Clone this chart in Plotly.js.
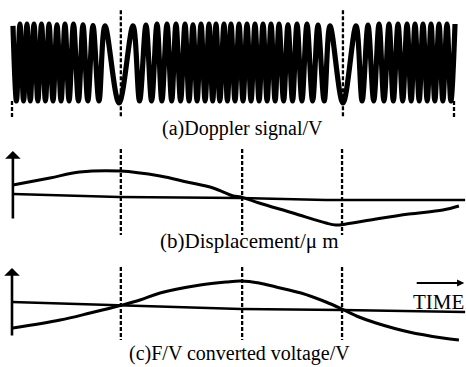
<!DOCTYPE html>
<html>
<head>
<meta charset="utf-8">
<script src="https://cdn.plot.ly/plotly-3.0.1.min.js"></script>
<style>html,body{margin:0;padding:0;background:#fff;}#chart{width:466px;height:367px;}</style>
</head>
<body>
<div id="chart"></div>
<script>
// ---- Data (time in arbitrary units, 0..100 across the record) ----
// (a) Doppler signal: times of fringe crests and troughs, with amplitudes (V)
const dopplerPeakT = [0.22, 1.79, 3.36, 4.93, 6.61, 8.30, 10.09, 11.88, 13.79, 15.92, 18.16, 20.85,
  27.13, 30.04, 32.51, 34.75, 36.77, 38.79, 40.58, 42.38, 44.17, 45.74, 47.53, 49.10, 50.90, 52.69,
  54.48, 56.28, 58.07, 59.87, 61.88, 63.90, 66.14, 68.61, 71.30,
  77.13, 79.82, 82.29, 84.53, 86.55, 88.57, 90.36, 92.15, 93.95, 95.74, 97.53, 99.33];
const dopplerPeakV = [0.95, 1, 1, 1, 1, 1, 0.98, 1, 1, 0.98, 0.96, 0.95,
  0.95, 0.97, 1, 1, 1, 1, 0.98, 1, 1, 1, 1, 1, 1, 1,
  1, 1, 1, 1, 0.98, 1, 1, 0.97, 0.95,
  0.95, 0.97, 1, 1, 1, 1, 1, 1, 1, 1, 1, 1];
const dopplerTroughT = [1.0, 2.6, 4.1, 5.8, 7.5, 9.2, 11.0, 12.8, 14.9, 17.0, 19.5, 24.0,
  28.6, 31.3, 33.6, 35.8, 37.8, 39.7, 41.5, 43.3, 45.0, 46.6, 48.3, 50.0, 51.8, 53.6,
  55.4, 57.2, 59.0, 60.9, 62.9, 65.0, 67.4, 70.0, 74.2,
  78.5, 81.1, 83.4, 85.5, 87.6, 89.5, 91.3, 93.1, 94.8, 96.6, 98.4];
const dopplerTroughV = [-1, -1, -1, -1, -1, -1, -1, -1, -1, -1, -1, -1.05,
  -1, -1, -1, -1, -1, -1, -1, -1, -1, -1, -1, -1, -1, -1,
  -1, -1, -1, -1, -1, -1, -1, -1, -1.05,
  -1, -1, -1, -1, -1, -1, -1, -1, -1, -1, -1];

// (b) Displacement (um)
const dispT = [0.2, 8.5, 15.2, 24.2, 33.2, 39.2, 45.1, 49.6, 51.3, 55.4, 63.0, 70.4, 72.6, 74.9, 81.6, 89.0, 96.6, 100.2];
const dispV = [0.48, 0.76, 1.0, 1.04, 0.84, 0.6, 0.36, 0.04, 0, -0.24, -0.64, -1.04, -1.12, -1.08, -0.88, -0.68, -0.52, -0.36];
const dispBaseT = [0.2, 24.0, 51.3, 70.4, 101.6];
const dispBaseV = [0.12, 0, -0.04, -0.12, -0.12];

// (c) F/V converted voltage (V)
const fvT = [0.2, 10.8, 17.5, 24.7, 28.7, 33.2, 42.2, 48.0, 51.3, 55.4, 59.2, 64.8, 70.4, 74.0, 77.8, 81.6, 89.0, 96.6, 100.2];
const fvV = [-0.88, -0.56, -0.28, 0.04, 0.24, 0.52, 0.84, 0.96, 1.0, 0.92, 0.76, 0.52, 0.16, -0.12, -0.44, -0.68, -1.04, -1.28, -1.36];
const fvBaseT = [0, 24.4, 51.3, 74.0, 101.6];
const fvBaseV = [0.16, 0.04, -0.12, -0.16, -0.24];

// Time markers (turning points / zero crossings)
const markerTimesA = [24.4, 74.2];
const edgeTimesA = [0, 99.1];
const markerTimesB = [24.4, 51.6, 74.0];
const markerTimesC = [24.4, 51.6, 74.0];

const captions = ['(a)Doppler signal/V', '(b)Displacement/\u03bc m', '(c)F/V converted voltage/V'];
const timeLabel = 'TIME';

// ---- Build Doppler trace from crests/troughs ----
const ext = [];
dopplerPeakT.forEach((t, i) => ext.push([t, dopplerPeakV[i]]));
dopplerTroughT.forEach((t, i) => ext.push([t, dopplerTroughV[i]]));
ext.sort((a, b) => a[0] - b[0]);

const FONT = "'Liberation Serif', 'Times New Roman', Times, serif";
const traces = [
  {x: ext.map(e => e[0]), y: ext.map(e => e[1]), xaxis: 'x', yaxis: 'y', mode: 'lines',
   line: {color: '#000', width: 5.2, shape: 'spline', smoothing: 1}, hoverinfo: 'skip'},
  {x: dispBaseT, y: dispBaseV, xaxis: 'x', yaxis: 'y2', mode: 'lines', line: {color: '#000', width: 2.4}},
  {x: dispT, y: dispV, xaxis: 'x', yaxis: 'y2', mode: 'lines', line: {color: '#000', width: 3, shape: 'spline'}},
  {x: fvBaseT, y: fvBaseV, xaxis: 'x', yaxis: 'y3', mode: 'lines', line: {color: '#000', width: 2.4}},
  {x: fvT, y: fvV, xaxis: 'x', yaxis: 'y3', mode: 'lines', line: {color: '#000', width: 3, shape: 'spline'}}
];

const dashLine = {color: '#000', width: 2.3, dash: '4px,2px'};
const shapes = [];
markerTimesA.forEach(t => shapes.push({type: 'line', xref: 'x', yref: 'y', x0: t, x1: t, y0: 1.36, y1: -1.42, line: dashLine}));
edgeTimesA.forEach(t => shapes.push({type: 'line', xref: 'x', yref: 'y', x0: t, x1: t, y0: -1.0, y1: -1.42, line: dashLine}));
markerTimesB.forEach(t => shapes.push({type: 'line', xref: 'x', yref: 'y2', x0: t, x1: t, y0: 1.92, y1: -1.52, line: dashLine}));
markerTimesC.forEach(t => shapes.push({type: 'line', xref: 'x', yref: 'y3', x0: t, x1: t, y0: 1.56, y1: -1.36, line: dashLine}));

const annotations = [
  // vertical axes with arrows
  {xref: 'x', yref: 'y2', axref: 'x', ayref: 'y2', x: 0.2, y: 1.84, ax: 0.2, ay: -0.92, text: '',
   showarrow: true, arrowhead: 1, arrowsize: 1, arrowwidth: 2.6, arrowcolor: '#000'},
  {xref: 'x', yref: 'y3', axref: 'x', ayref: 'y3', x: 0, y: 1.52, ax: 0, ay: -1.24, text: '',
   showarrow: true, arrowhead: 1, arrowsize: 1, arrowwidth: 2.6, arrowcolor: '#000'},
  // TIME arrow
  {xref: 'x', yref: 'y3', axref: 'x', ayref: 'y3', x: 101.4, y: 0.92, ax: 90.4, ay: 0.92, text: '',
   showarrow: true, arrowhead: 2, arrowsize: 0.8, arrowwidth: 1.8, arrowcolor: '#000'},
  {xref: 'x', yref: 'y3', x: 101.7, y: 0.16, xanchor: 'right', yanchor: 'middle', text: timeLabel,
   showarrow: false, font: {family: FONT, size: 21, color: '#000'}},
  // captions
  {xref: 'paper', yref: 'paper', x: 0.521, y: 0.651, xanchor: 'center', yanchor: 'middle', text: captions[0],
   showarrow: false, font: {family: FONT, size: 20, color: '#000'}},
  {xref: 'paper', yref: 'paper', x: 0.536, y: 0.343, xanchor: 'center', yanchor: 'middle', text: captions[1],
   showarrow: false, font: {family: FONT, size: 21, color: '#000'}},
  {xref: 'paper', yref: 'paper', x: 0.515, y: 0.0, xanchor: 'center', yanchor: 'bottom', text: captions[2],
   showarrow: false, font: {family: FONT, size: 20, color: '#000'}}
];

const hidden = {visible: false, showgrid: false, zeroline: false, fixedrange: true};
const layout = {
  width: 466, height: 367,
  margin: {l: 0, r: 0, t: 0, b: 0, pad: 0},
  paper_bgcolor: '#fff', plot_bgcolor: '#fff',
  showlegend: false,
  font: {family: FONT, color: '#000'},
  xaxis: Object.assign({}, hidden, {range: [-2.69, 101.79], domain: [0, 1]}),
  yaxis: Object.assign({}, hidden, {range: [-1.494, 1.494], domain: [0.6730, 0.9864]}),
  yaxis2: Object.assign({}, hidden, {range: [-1.72, 2.28], domain: [0.3460, 0.6185], anchor: 'x'}),
  yaxis3: Object.assign({}, hidden, {range: [-1.56, 1.92], domain: [0.0599, 0.2970], anchor: 'x'}),
  shapes: shapes,
  annotations: annotations
};
Plotly.newPlot('chart', traces, layout, {staticPlot: true, displayModeBar: false});
</script>
</body>
</html>
